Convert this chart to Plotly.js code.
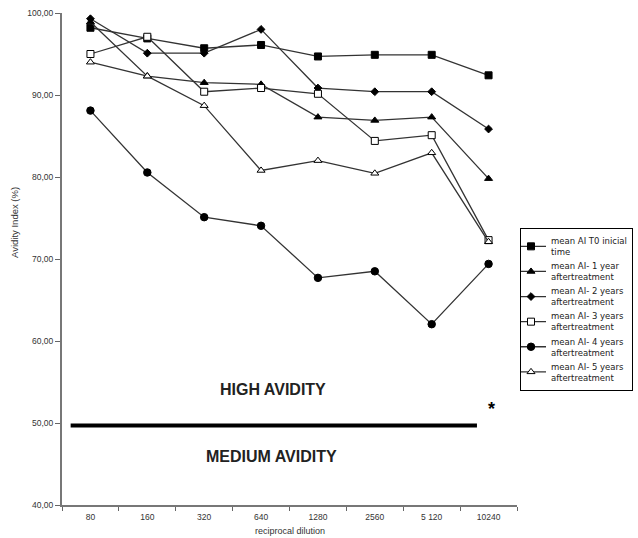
<!DOCTYPE html>
<html>
<head>
<meta charset="utf-8">
<script src="https://cdn.plot.ly/plotly-3.0.1.min.js"></script>
<style>
  html, body { margin: 0; padding: 0; background: #fff; }
  #chart { width: 638px; height: 538px; }
</style>
</head>
<body>
<div id="chart"></div>
<script>
// Reciprocal serum dilutions (x categories)
const dilutions = ["80", "160", "320", "640", "1280", "2560", "5 120", "10240"];

// Mean avidity index (%) per follow-up time
const meanT0     = [98.2, 96.9, 95.7, 96.1, 94.7, 94.9, 94.9, 92.4];
const meanYear1  = [98.9, 92.3, 91.5, 91.3, 87.3, 86.9, 87.3, 79.8];
const meanYears2 = [99.3, 95.1, 95.1, 98.0, 90.85, 90.4, 90.4, 85.85];
const meanYears3 = [95.0, 97.1, 90.4, 90.85, 90.15, 84.4, 85.1, 72.3];
const meanYears4 = [88.1, 80.55, 75.1, 74.05, 67.7, 68.5, 62.05, 69.4];
const meanYears5 = [94.0, 92.3, 88.7, 80.8, 82.0, 80.45, 82.95, 72.1];

const seriesNames = [
  "mean AI T0 inicial<br>time",
  "mean AI- 1 year<br>aftertreatment",
  "mean AI- 2 years<br>aftertreatment",
  "mean AI- 3 years<br>aftertreatment",
  "mean AI- 4 years<br>aftertreatment",
  "mean AI- 5 years<br>aftertreatment"
];

// Y axis ticks, written with a decimal comma
const yTickVals = [40, 50, 60, 70, 80, 90, 100];
const yTickText = ["40,00", "50,00", "60,00", "70,00", "80,00", "90,00", "100,00"];

// Avidity threshold separating high from medium avidity
const avidityCutoff = 49.7;

const seriesValues = [meanT0, meanYear1, meanYears2, meanYears3, meanYears4, meanYears5];
const markerStyles = [
  { symbol: "square",      size: 7,   color: "#000", line: { color: "#000", width: 1 } },
  { symbol: "triangle-up", size: 7,   color: "#000", line: { color: "#000", width: 1 } },
  { symbol: "diamond",     size: 6,   color: "#000", line: { color: "#000", width: 1 } },
  { symbol: "square",      size: 7,   color: "#fff", line: { color: "#000", width: 1 } },
  { symbol: "circle",      size: 7.5, color: "#000", line: { color: "#000", width: 1 } },
  { symbol: "triangle-up", size: 7,   color: "#fff", line: { color: "#000", width: 1 } }
];

const traces = seriesValues.map((vals, i) => ({
  type: "scatter",
  mode: "lines+markers",
  x: dilutions,
  y: vals,
  name: seriesNames[i],
  line: { color: "#333", width: 1.3 },
  marker: markerStyles[i],
  cliponaxis: false
}));

const FONT = '"Liberation Sans", Arial, sans-serif';

const layout = {
  width: 638,
  height: 538,
  margin: { l: 62, r: 121, t: 13, b: 33, autoexpand: false },
  paper_bgcolor: "#fff",
  plot_bgcolor: "#fff",
  font: { family: FONT, color: "#333", size: 9 },
  showlegend: true,
  xaxis: {
    type: "category",
    categoryorder: "array",
    categoryarray: dilutions,
    range: [-0.5, 7.5],
    tickson: "boundaries",
    ticks: "outside",
    ticklen: 4,
    tickcolor: "#666",
    ticklabelstandoff: 3,
    showline: true,
    linecolor: "#777",
    linewidth: 2,
    showgrid: false,
    zeroline: false,
    tickfont: { family: FONT, size: 8.5, color: "#333" },
    fixedrange: true
  },
  yaxis: {
    range: [40, 100],
    tickmode: "array",
    tickvals: yTickVals,
    ticktext: yTickText,
    ticks: "outside",
    ticklen: 5,
    tickcolor: "#666",
    showline: true,
    linecolor: "#777",
    linewidth: 2,
    showgrid: false,
    zeroline: false,
    tickfont: { family: FONT, size: 8.5, color: "#333" },
    fixedrange: true
  },
  legend: {
    x: 1.0066,
    xanchor: "left",
    y: 0.5634,
    yanchor: "top",
    bgcolor: "#fff",
    bordercolor: "#000",
    borderwidth: 1,
    font: { family: '"DejaVu Sans", Verdana, sans-serif', size: 8.5, color: "#222" },
    itemwidth: 30,
    indentation: -10,
    tracegroupgap: 0
  },
  shapes: [{
    type: "line",
    xref: "paper",
    yref: "y",
    x0: 0.019,
    x1: 0.912,
    y0: avidityCutoff,
    y1: avidityCutoff,
    line: { color: "#000", width: 4 }
  }],
  annotations: [
    {
      text: "HIGH AVIDITY", xref: "paper", yref: "paper", x: 0.464, y: 0.234,
      xanchor: "center", yanchor: "middle",
      showarrow: false, font: { family: FONT, size: 16, color: "#222", weight: "bold" }
    },
    {
      text: "MEDIUM AVIDITY", xref: "paper", yref: "paper", x: 0.4615, y: 0.0976,
      xanchor: "center", yanchor: "middle",
      showarrow: false, font: { family: FONT, size: 16, color: "#222", weight: "bold" }
    },
    {
      text: "*", xref: "paper", yref: "paper", x: 0.943, y: 0.196,
      xanchor: "center", yanchor: "middle",
      showarrow: false, font: { family: FONT, size: 18, color: "#000", weight: "bold" }
    },
    {
      text: "Avidity Index (%)", xref: "paper", yref: "paper", x: -0.103, y: 0.5735,
      xanchor: "center", yanchor: "middle",
      textangle: -90, showarrow: false, font: { family: FONT, size: 9.5, color: "#333" }
    },
    {
      text: "reciprocal dilution", xref: "paper", yref: "paper", x: 0.502, y: -0.053,
      xanchor: "center", yanchor: "middle", showarrow: false,
      font: { family: FONT, size: 9, color: "#333" }
    }
  ]
};

Plotly.newPlot("chart", traces, layout, { displayModeBar: false, staticPlot: true });
</script>
</body>
</html>
